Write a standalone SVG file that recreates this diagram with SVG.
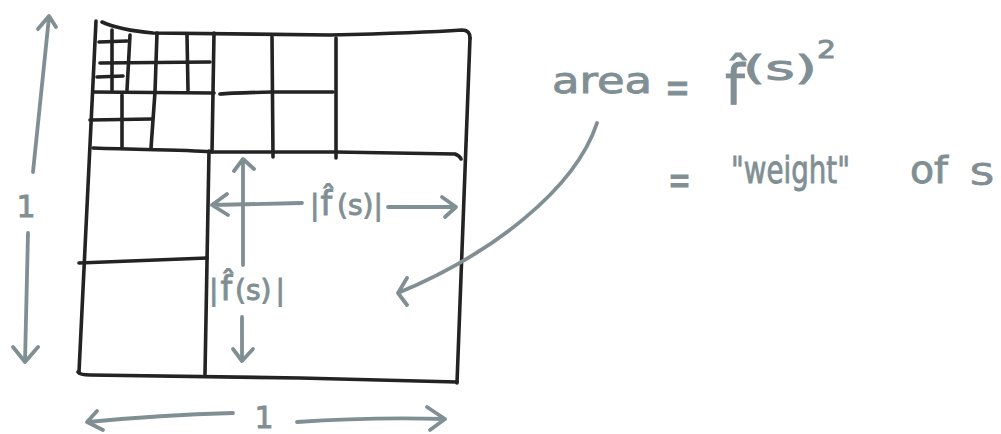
<svg xmlns="http://www.w3.org/2000/svg" width="1001" height="434" viewBox="0 0 1001 434">
  <style>
    .ink { fill: none; stroke: #232323; stroke-width: 3.6; stroke-linecap: round; stroke-linejoin: round; }
    .pen { fill: none; stroke: #808f94; stroke-width: 3.8; stroke-linecap: round; stroke-linejoin: round; }
    .hand { fill: #808f94; stroke: #808f94; stroke-width: 0.9; font-family: "DejaVu Sans", "Noto Sans", sans-serif; }
  </style>
  <rect width="1001" height="434" fill="#ffffff"/>

  <g id="square">
    <path class="ink" d="M96,21 L79,372"/>
    <path class="ink" d="M78,372 Q80,375 90,375 L300,378 L457,382"/>
    <path class="ink" d="M470,38 L457,383"/>
    <path class="ink" d="M102,22 Q120,30 153,33 L330,35 Q420,33 462,30 Q470,30 470,38"/>
    <path class="ink" d="M93,148 C150,150 200,150 213,152 L335,152 L455,154 Q460,156 461,159"/>
    <path class="ink" d="M209,151 L205,374"/>
    <path class="ink" d="M79,263 L207,258"/>
    <path class="ink" d="M214,33 L212,152"/>
    <path class="ink" d="M272,37 L273,157"/>
    <path class="ink" d="M336,38 L336,158"/>
    <path class="ink" d="M220,94 Q230,93 272,92 L333,92"/>
    <path class="ink" d="M93,92 L214,93"/>
    <path class="ink" d="M157,33 L155,92 L151,148"/>
    <path class="ink" d="M187,35 L188,90"/>
    <path class="ink" d="M100,63 L210,62"/>
    <path class="ink" d="M112,30 L112,90"/>
    <path class="ink" d="M130,35 L127,90"/>
    <path class="ink" d="M99,42 L127,41"/>
    <path class="ink" d="M97,77 L123,76"/>
    <path class="ink" d="M122,95 L122,148"/>
    <path class="ink" d="M90,120 L152,119"/>
  </g>

  <g id="connectors">
    <path class="pen" d="M33,172 L49,17 M38,29 L49,16 L56,27"/>
    <path class="pen" d="M28,233 L25,362 M13,347 L25,362 L38,347"/>
    <path class="pen" d="M233,413 Q160,415 88,422 M97,411 L87,422 L103,430"/>
    <path class="pen" d="M297,422 Q370,417 445,419 M427,407 L445,419 L430,430"/>
    <path class="pen" d="M243,265 L243,160 M234,171 L243,159 L254,169"/>
    <path class="pen" d="M302,203 L212,205 M227,194 L212,205 L228,215"/>
    <path class="pen" d="M388,207 L455,207 M442,197 L456,207 L445,217"/>
    <path class="pen" d="M242,317 L242,360 M233,349 L242,361 L253,349"/>
    <path class="pen" d="M597,123 C575,190 490,255 398,293 M407,278 L398,293 L407,305"/>
  </g>

  <g id="dim-left">
    <text class="hand" x="26" y="217" font-size="30" text-anchor="middle">1</text>
  </g>
  <g id="dim-bottom">
    <text class="hand" x="264" y="428" font-size="30" text-anchor="middle">1</text>
  </g>
  <g id="label-width">
    <text class="hand" x="310" y="215" font-size="28">|<tspan dx="1" font-size="33">f̂</tspan><tspan dx="5">(s)</tspan><tspan dx="0">|</tspan></text>
  </g>
  <g id="label-height">
    <text class="hand" x="209" y="300" font-size="28">|<tspan dx="2" font-size="33">f̂</tspan><tspan dx="3">(s)</tspan><tspan dx="4">|</tspan></text>
  </g>
  <g id="label-area">
    <text class="hand" x="552" y="93" font-size="36" textLength="100" lengthAdjust="spacingAndGlyphs">area</text>
    <text class="hand" x="665" y="103" font-size="46" textLength="25" lengthAdjust="spacingAndGlyphs">=</text>
    <text class="hand" x="725" y="104" font-size="56">f̂</text>
    <text class="hand" x="743" y="80" font-size="34" textLength="74" lengthAdjust="spacingAndGlyphs">(s)</text>
    <text class="hand" x="817" y="58" font-size="24" textLength="19" lengthAdjust="spacingAndGlyphs">2</text>
  </g>
  <g id="label-weight">
    <text class="hand" x="668" y="194" font-size="42" textLength="23" lengthAdjust="spacingAndGlyphs">=</text>
    <text class="hand" x="731" y="183" font-size="38" textLength="119" lengthAdjust="spacingAndGlyphs">"weight"</text>
    <text class="hand" x="910" y="183" font-size="38" textLength="38" lengthAdjust="spacingAndGlyphs">of</text>
    <text class="hand" x="970" y="185" font-size="30" textLength="24" lengthAdjust="spacingAndGlyphs">S</text>
  </g>
</svg>
